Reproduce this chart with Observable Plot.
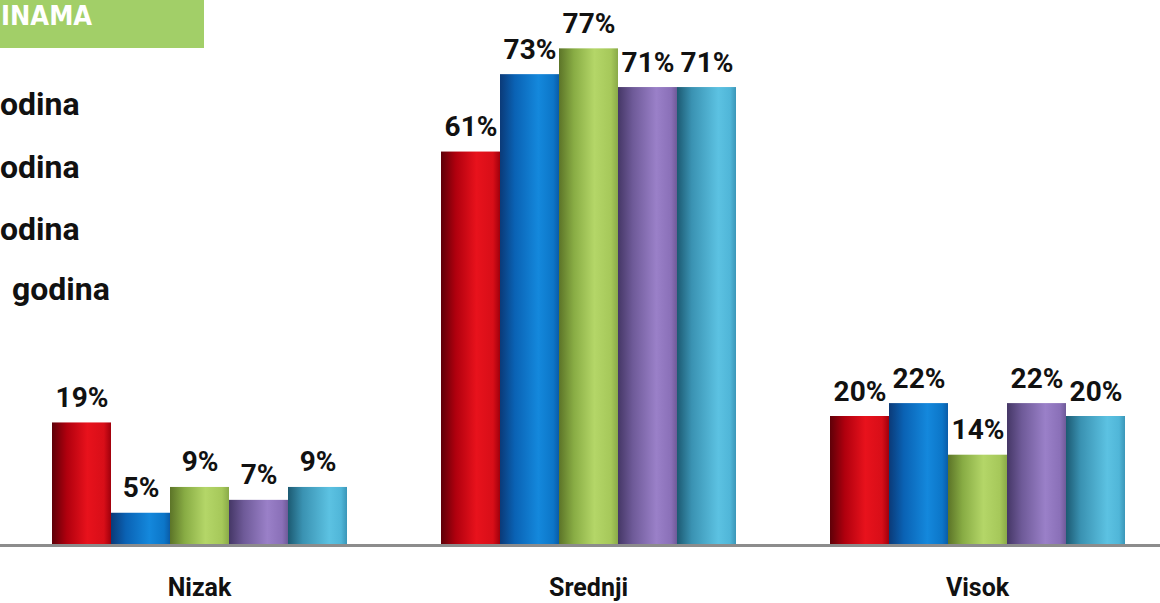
<!DOCTYPE html>
<html>
<head>
<meta charset="utf-8">
<script src="https://cdn.jsdelivr.net/npm/d3@7"></script>
<script src="https://cdn.jsdelivr.net/npm/@observablehq/plot@0.6"></script>
<style>
  html, body { margin: 0; padding: 0; background: #ffffff; overflow: hidden; }
  #wrap { position: relative; width: 1160px; height: 603px; overflow: hidden; }
  #chart { position: absolute; left: 0; top: 0; }
  .hdr { position: absolute; left: 0; top: 0; width: 204px; height: 48px; background: #a2cf68; }
  .hdr span { position: absolute; left: 1px; top: 0; white-space: nowrap; color: #ffffff;
    font-family: "Liberation Sans Narrow", "DejaVu Sans Condensed", sans-serif; font-size: 27px; font-weight: bold; line-height: normal; }
  .leg { position: absolute; white-space: nowrap; font-family: Roboto, sans-serif; font-weight: bold; font-size: 32px; color: #111; line-height: 1; }
</style>
</head>
<body>
<div id="wrap">
  <div id="chart"></div>
  <div class="hdr"><span id="title"></span></div>
</div>
<script>
// Data
const groups = ["Nizak", "Srednji", "Visok"];
const series = ["s1", "s2", "s3", "s4", "s5"];
const s1Values = [19, 61, 20];
const s2Values = [5, 73, 22];
const s3Values = [9, 77, 14];
const s4Values = [7, 71, 22];
const s5Values = [9, 71, 20];
const headerText = "INAMA";
const legendLabels = ["odina", "odina", "odina", "godina"];

const seriesValues = [s1Values, s2Values, s3Values, s4Values, s5Values];
const data = [];
groups.forEach((g, gi) => {
  series.forEach((s, si) => data.push({group: g, series: s, value: seriesValues[si][gi]}));
});

const gradStops = [
  [["0", "#5e0008"], ["0.25", "#b0000e"], ["0.6", "#e8121c"], ["0.88", "#d80e18"], ["1", "#a0000c"]],
  [["0", "#0b3a78"], ["0.25", "#0a62b4"], ["0.65", "#1488dc"], ["0.9", "#0c76c8"], ["1", "#0a5ca8"]],
  [["0", "#5c7428"], ["0.25", "#88ac44"], ["0.6", "#b4d668"], ["0.88", "#a6c85a"], ["1", "#8aaa48"]],
  [["0", "#453766"], ["0.25", "#6e5a98"], ["0.65", "#9a80c8"], ["0.9", "#8a70b8"], ["1", "#6e5a98"]],
  [["0", "#1c5a72"], ["0.25", "#3a92b2"], ["0.7", "#5cc2e2"], ["0.9", "#50b6d8"], ["1", "#3a96b8"]]
];
const fills = series.map((s, i) => `url(#grad${i})`);

const plot = Plot.plot({
  width: 1160,
  height: 603,
  marginLeft: 50,
  marginRight: 34,
  marginTop: 29,
  marginBottom: 58,
  style: {background: "transparent", fontFamily: "Roboto, sans-serif"},
  fx: {domain: groups, paddingInner: 0.234, paddingOuter: 0},
  x: {domain: series, padding: 0, axis: null},
  y: {domain: [0, 80], axis: null},
  color: {domain: series, range: fills},
  marks: [
    Plot.barY(data, {fx: "group", x: "series", y: "value", fill: "series"}),
    Plot.ruleY([0], {stroke: "#8c8c8c", strokeWidth: 3, insetLeft: -60, insetRight: -60}),
    Plot.text(data, {fx: "group", x: "series", y: "value", text: d => d.value + "%",
      lineAnchor: "bottom", dy: -16, fontSize: 28, fontWeight: "bold", fill: "#111"}),
    Plot.axisFx({anchor: "bottom", tickSize: 0, tickPadding: 33, label: null,
      fontSize: 25, fontWeight: "bold", color: "#111"})
  ]
});

// gradients
const defs = d3.select(plot).insert("defs", ":first-child");
gradStops.forEach((stops, i) => {
  const lg = defs.append("linearGradient").attr("id", `grad${i}`)
    .attr("x1", "0").attr("y1", "0").attr("x2", "1").attr("y2", "0");
  stops.forEach(([o, c]) => lg.append("stop").attr("offset", o).attr("stop-color", c));
});

document.getElementById("chart").appendChild(plot);
document.getElementById("title").textContent = headerText;

// legend texts (only the visible part of each line)
const legendLeft = [0, 0, 0, 12];
const legendTop = [88, 151, 213, 273];
const wrap = document.getElementById("wrap");
legendLabels.forEach((t, i) => {
  const el = document.createElement("div");
  el.className = "leg";
  el.textContent = t;
  el.style.left = legendLeft[i] + "px";
  el.style.top = legendTop[i] + "px";
  wrap.appendChild(el);
});
</script>
</body>
</html>
